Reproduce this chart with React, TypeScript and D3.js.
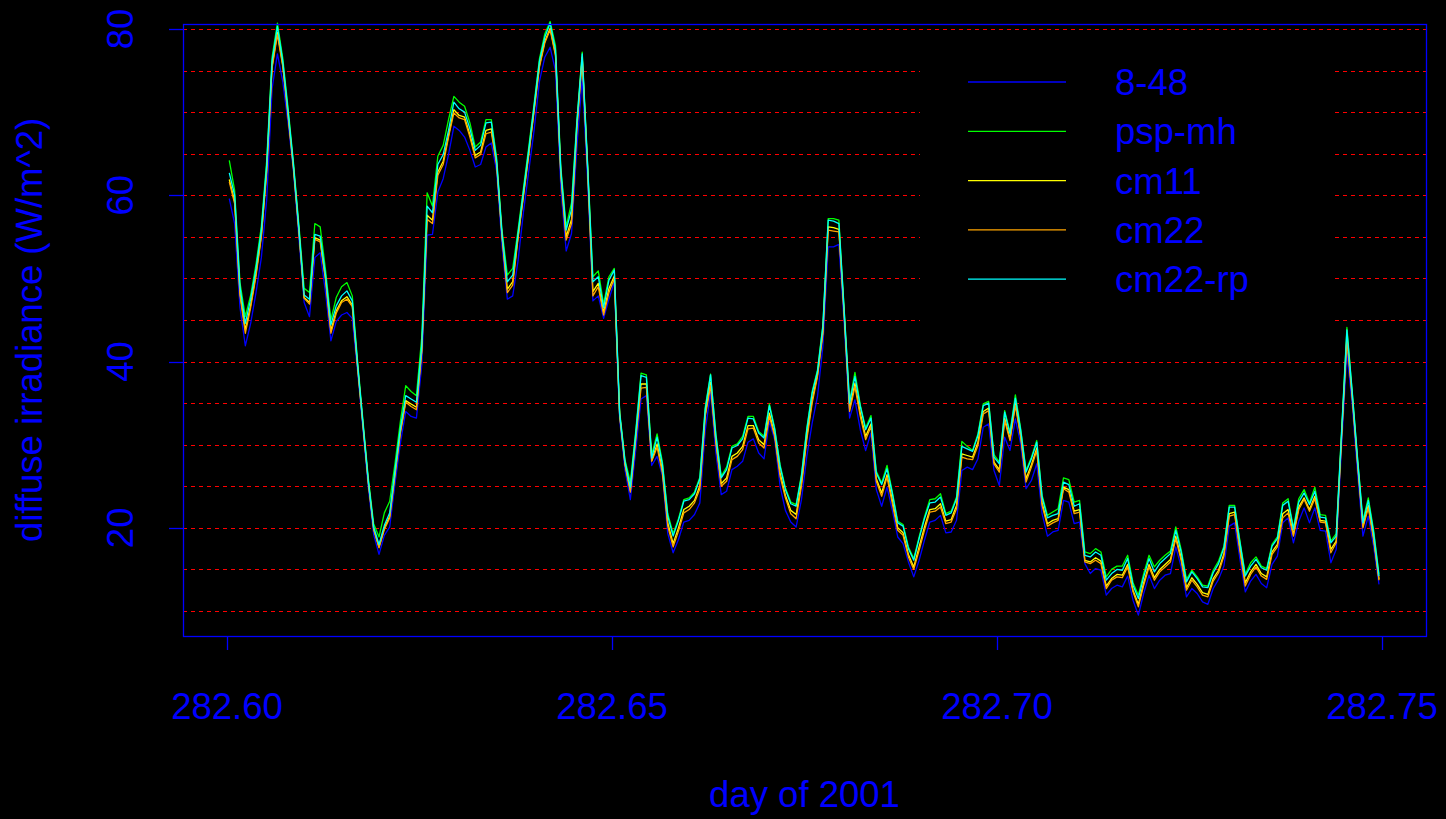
import React from "react";
import * as d3 from "d3";

const T0 = 282.6003;
const STEP = 1 / 1440;

const SERIES_NAMES = ["8-48", "psp-mh", "cm11", "cm22", "cm22-rp"];
const SERIES_COLORS = ["#0000ff", "#00ff00", "#ffff00", "#ffa500", "#00ffff"];

const s848 = [59.6,56.6,46.5,41.9,44.6,48.3,52.5,59.5,72.8,77.0,73.7,68.7,62.9,55.0,47.1,45.4,52.5,53.1,48.3,42.5,44.8,45.6,45.9,45.2,38.8,31.8,24.8,19.2,16.8,19.1,
20.1,25.4,30.2,34.0,33.4,33.2,39.6,55.2,55.3,60.4,62.0,64.9,68.3,67.8,67.0,65.4,63.4,63.7,65.8,66.3,62.9,54.0,47.5,47.9,52.1,57.9,62.9,67.8,73.7,76.6,
77.8,75.0,61.0,53.3,55.4,65.8,74.1,62.0,47.3,47.9,45.2,47.5,49.6,33.0,27.0,23.4,29.3,35.5,35.9,27.5,28.6,26.3,19.3,17.0,18.6,20.7,20.9,21.6,23.0,31.7,
36.3,29.0,24.0,24.4,27.0,27.4,28.0,30.3,30.7,29.0,28.3,32.8,30.6,25.0,22.1,20.7,20.1,23.4,28.6,32.6,35.8,41.8,53.8,53.8,54.1,44.5,33.2,35.4,31.8,29.3,
31.4,24.6,22.6,24.9,22.1,18.9,18.1,15.9,14.1,16.1,18.5,20.7,20.9,21.5,19.4,19.5,20.9,26.9,27.3,27.0,28.3,32.1,32.5,26.9,25.1,30.9,29.3,33.1,30.1,24.7,
25.7,27.7,21.7,19.0,19.5,19.7,23.3,23.1,20.5,20.7,15.7,14.5,15.1,14.9,11.9,12.7,13.1,12.9,14.2,11.3,9.5,12.1,14.3,12.7,13.7,14.3,14.5,17.7,15.3,11.7,
12.7,12.1,11.1,10.8,12.7,13.8,15.4,20.2,20.6,16.2,12.3,13.6,14.4,13.3,12.8,15.6,16.6,20.6,21.2,18.2,20.8,22.4,20.6,22.4,19.7,19.6,15.8,17.4,29.8,41.1,
34.8,26.6,19.0,21.4,17.8,13.2];

const pspMh = [64.2,60.6,49.5,45.4,48.0,51.7,56.3,64.2,76.6,80.7,76.5,70.5,64.0,56.6,48.8,48.3,56.6,56.2,51.0,45.0,47.7,49.0,49.5,47.9,40.0,32.9,26.0,20.5,18.9,21.8,
23.2,27.8,32.8,37.1,36.4,35.9,43.0,60.3,58.7,64.7,66.0,69.1,71.9,71.2,70.7,68.7,65.8,66.4,69.1,69.1,64.5,55.8,50.4,51.2,55.8,60.8,65.8,71.0,76.4,79.4,
80.9,78.0,63.4,56.2,59.1,69.0,77.2,64.0,50.2,50.9,46.9,50.2,51.2,34.0,28.2,25.5,31.6,38.6,38.4,28.8,31.3,27.9,21.7,19.3,21.1,23.4,23.6,24.3,26.1,34.5,
38.5,31.3,26.2,27.3,29.8,30.1,31.0,33.4,33.4,31.6,31.0,34.9,32.0,27.6,24.8,23.1,22.8,26.4,32.0,36.4,39.0,44.4,57.2,57.2,57.0,46.2,35.2,38.7,34.8,32.0,
33.5,26.8,25.4,27.5,24.3,20.8,20.4,17.7,16.3,18.9,21.3,23.4,23.5,24.1,21.7,22.0,23.7,30.4,29.8,29.3,31.3,34.9,35.2,28.8,27.9,34.1,31.5,36.0,31.9,26.9,
28.5,30.5,23.9,21.5,21.9,22.3,26.0,25.8,23.1,23.3,17.1,16.9,17.5,17.1,14.1,15.0,15.4,15.4,16.7,13.4,11.9,14.5,16.7,15.3,16.1,16.7,17.2,20.1,17.4,13.8,
14.9,14.1,13.1,13.0,14.9,16.0,17.8,22.7,22.7,18.4,14.4,15.8,16.5,15.4,15.1,18.0,18.9,23.0,23.5,20.0,23.5,24.6,23.0,24.9,21.6,21.5,18.4,19.3,31.7,44.1,
36.4,28.4,20.9,23.6,19.7,14.4];

const cm11 = [61.9,59.3,48.3,43.8,46.8,50.6,55.2,63.1,75.5,79.6,75.7,69.7,63.4,55.9,47.7,47.1,54.9,54.6,50.0,43.7,46.1,47.3,47.8,46.8,39.4,32.4,25.5,19.9,17.7,20.0,
21.4,26.6,31.6,35.3,34.9,34.5,41.4,57.6,57.0,62.8,64.1,67.2,70.3,69.6,69.4,67.3,64.8,65.2,67.8,68.0,63.8,55.1,48.7,49.6,55.0,60.0,65.0,70.3,75.6,78.5,
80.1,77.0,62.6,55.0,57.1,68.2,76.6,63.4,48.4,49.4,45.9,48.8,50.3,33.6,27.7,24.5,30.8,37.3,37.3,28.1,30.1,26.9,20.6,18.1,20.0,22.2,22.6,23.3,25.1,33.6,
37.5,30.4,25.3,26.0,28.6,29.0,29.8,32.3,32.3,30.6,30.0,33.8,31.2,26.6,23.9,22.1,21.6,25.4,31.0,35.4,38.4,43.6,56.2,56.1,55.9,45.6,34.3,37.4,33.8,31.0,
32.5,25.9,24.2,26.4,23.3,20.0,19.4,16.8,15.3,17.7,20.1,22.2,22.3,22.9,20.8,21.0,22.7,28.9,28.7,28.5,30.3,34.0,34.4,27.9,27.0,33.2,30.7,35.0,31.1,25.9,
27.6,29.6,23.0,20.5,20.9,21.1,24.9,24.6,22.0,22.2,16.1,15.9,16.4,16.0,13.0,13.9,14.4,14.3,15.6,12.5,10.8,13.4,15.6,14.0,15.0,15.6,16.2,19.0,16.4,12.8,
14.0,13.2,12.2,12.0,13.9,14.9,16.9,21.7,21.9,17.5,13.4,14.7,15.6,14.5,14.1,17.1,18.0,21.7,22.2,19.2,22.5,23.6,22.2,23.8,20.9,20.8,17.4,18.4,31.0,43.0,
35.8,27.8,20.2,22.7,18.8,13.8];

const cm22 = [61.6,59.0,48.0,43.4,46.5,50.3,55.0,62.8,75.3,79.3,75.5,69.5,63.2,55.8,47.6,46.9,54.7,54.4,49.8,43.4,45.8,47.1,47.5,46.6,39.3,32.3,25.4,19.8,17.6,19.8,
21.2,26.4,31.4,35.1,34.6,34.2,41.2,57.1,56.6,62.4,63.7,67.0,69.9,69.3,69.1,67.0,64.5,64.9,67.4,67.6,63.6,55.0,48.3,49.2,54.8,59.8,64.8,70.1,75.4,78.3,
79.9,76.8,62.4,54.6,56.6,68.0,76.5,63.2,47.9,49.0,45.6,48.3,50.0,33.5,27.6,24.3,30.6,36.8,36.9,28.0,29.7,26.6,20.2,17.7,19.6,21.8,22.2,23.0,24.7,33.4,
37.1,30.2,25.0,25.6,28.2,28.6,29.4,31.9,32.0,30.2,29.6,33.4,31.0,26.2,23.6,21.7,21.1,25.0,30.6,35.0,38.2,43.3,55.8,55.7,55.6,45.4,34.0,37.0,33.4,30.6,
32.2,25.6,23.8,26.1,22.9,19.7,19.1,16.5,15.0,17.3,19.7,21.9,22.0,22.5,20.5,20.7,22.3,28.5,28.3,28.2,29.9,33.7,34.1,27.7,26.7,32.9,30.5,34.7,30.9,25.5,
27.3,29.3,22.7,20.2,20.6,20.9,24.7,24.3,21.7,21.9,15.9,15.7,16.1,15.7,12.7,13.7,14.1,14.0,15.3,12.3,10.5,13.1,15.3,13.7,14.7,15.3,15.9,18.7,16.1,12.5,
13.7,12.9,11.9,11.7,13.6,14.6,16.6,21.4,21.6,17.2,13.0,14.4,15.3,14.2,13.8,16.8,17.7,21.2,21.8,19.0,22.2,23.4,22.0,23.5,20.7,20.6,17.0,18.2,30.8,42.7,
35.6,27.6,20.0,22.4,18.6,13.7];

const cm22rp = [62.7,60.0,49.0,44.6,47.5,51.2,55.8,63.7,76.1,80.3,76.1,70.1,63.7,56.2,48.0,47.5,55.3,55.1,50.4,44.4,46.7,47.9,48.5,47.3,39.7,32.6,25.7,20.1,18.0,20.3,
21.8,27.0,32.0,35.9,35.5,35.1,42.0,58.7,57.9,63.7,64.9,67.8,71.2,70.4,70.0,68.0,65.4,66.0,68.7,68.8,64.1,55.4,49.6,50.4,55.4,60.4,65.4,70.7,76.1,79.0,
80.7,77.5,63.0,55.8,58.3,68.7,77.0,63.7,49.6,50.2,46.5,49.8,51.0,33.8,28.0,24.9,31.3,38.3,38.1,28.4,30.9,27.6,21.4,19.0,20.9,23.2,23.4,24.1,25.9,34.2,
38.4,31.0,26.0,27.0,29.6,29.9,30.7,33.2,33.1,31.4,30.8,34.7,31.8,27.4,24.6,22.9,22.6,26.2,31.8,36.2,38.8,44.2,57.0,56.9,56.6,46.0,35.0,38.2,34.6,31.8,
33.2,26.6,25.2,27.1,24.1,20.6,20.2,17.5,16.1,18.7,21.1,23.0,23.1,23.7,21.5,21.8,23.5,29.8,29.5,29.2,31.1,34.7,35.0,28.5,27.7,33.9,31.3,35.6,31.7,26.7,
28.3,30.3,23.7,21.2,21.5,21.7,25.5,25.2,22.6,22.9,16.7,16.5,17.1,16.7,13.7,14.5,15.0,14.9,16.3,13.1,11.5,14.1,16.3,14.7,15.7,16.3,16.9,19.7,17.1,13.5,
14.7,13.9,12.9,12.8,14.6,15.7,17.6,22.5,22.5,18.2,14.2,15.4,16.2,15.2,14.9,17.8,18.7,22.7,23.2,19.8,23.1,24.2,22.8,24.4,21.3,21.2,18.2,19.0,31.4,43.8,
36.2,28.2,20.6,23.3,19.4,14.2];

const SERIES = [s848, pspMh, cm11, cm22, cm22rp];

const X_TICKS = [282.6, 282.65, 282.7, 282.75];
const Y_TICKS = [20, 40, 60, 80];
const GRID_VALUES = [10, 15, 20, 25, 30, 35, 40, 45, 50, 55, 60, 65, 70, 75, 80];

const X_TITLE = "day of 2001";
const Y_TITLE = "diffuse irradiance (W/m^2)";

const W = 1446;
const H = 819;
const L = 183, R = 1426, T = 24, B = 636;
const FONT = "'Liberation Sans', Arial, Helvetica, sans-serif";
const BLUE = "#0000ff";

const snap = (v: number) => Math.round(v) + 0.5;

export default function App() {
  const x = d3.scaleLinear().domain([282.59429, 282.75571]).range([L, R]);
  const y = d3.scaleLinear().domain([6.99, 80.6]).range([B, T]);
  const times = cm22rp.map((_, i) => T0 + i * STEP);
  const line = d3
    .line<number>()
    .x((_, i) => x(times[i]))
    .y((d) => y(d));

  const legX1 = 968, legX2 = 1066, legTX = 1115, legY0 = 82, legDY = 49.3;

  return (
    <div style={{ position: "fixed", left: 0, top: 0, width: W, height: H, background: "#000" }}>
      <svg width={W} height={H} style={{ display: "block" }} fontFamily={FONT}>
        <rect x={0} y={0} width={W} height={H} fill="#000" />
        {GRID_VALUES.map((g) => (
          <line key={g} x1={L} x2={R} y1={snap(y(g))} y2={snap(y(g))} stroke="#ff0000" strokeWidth={1.2} strokeDasharray="4,4" />
        ))}
        <rect x={920} y={45} width={415} height={280} fill="#000" />
        <g fill="none" strokeWidth={1.3} strokeLinejoin="round">
          {SERIES.map((s, k) => (
            <path key={k} d={line(s) || ""} stroke={SERIES_COLORS[k]} />
          ))}
        </g>
        <rect x={L + 0.5} y={T + 0.5} width={R - L} height={B - T} fill="none" stroke={BLUE} strokeWidth={1.3} />
        {X_TICKS.map((t) => (
          <g key={t}>
            <line x1={snap(x(t))} x2={snap(x(t))} y1={B} y2={B + 14} stroke={BLUE} strokeWidth={1.3} />
            <text x={x(t)} y={719} textAnchor="middle" fontSize={36.5} fill={BLUE}>
              {t.toFixed(2)}
            </text>
          </g>
        ))}
        {Y_TICKS.map((t) => (
          <g key={t}>
            <line x1={L - 14} x2={L} y1={snap(y(t))} y2={snap(y(t))} stroke={BLUE} strokeWidth={1.3} />
            <text transform={`translate(133,${y(t)}) rotate(-90)`} textAnchor="middle" fontSize={36.5} fill={BLUE}>
              {t}
            </text>
          </g>
        ))}
        <text x={(L + R) / 2} y={807} textAnchor="middle" fontSize={36.5} fill={BLUE}>
          {X_TITLE}
        </text>
        <text transform={`translate(42,${(T + B) / 2}) rotate(-90)`} textAnchor="middle" fontSize={36.5} fill={BLUE}>
          {Y_TITLE}
        </text>
        {SERIES_NAMES.map((n, k) => (
          <g key={n}>
            <line x1={legX1} x2={legX2} y1={legY0 + k * legDY} y2={legY0 + k * legDY} stroke={SERIES_COLORS[k]} strokeWidth={1.3} />
            <text x={legTX} y={legY0 + k * legDY} dy="0.36em" fontSize={36.5} fill={BLUE}>
              {n}
            </text>
          </g>
        ))}
      </svg>
    </div>
  );
}
